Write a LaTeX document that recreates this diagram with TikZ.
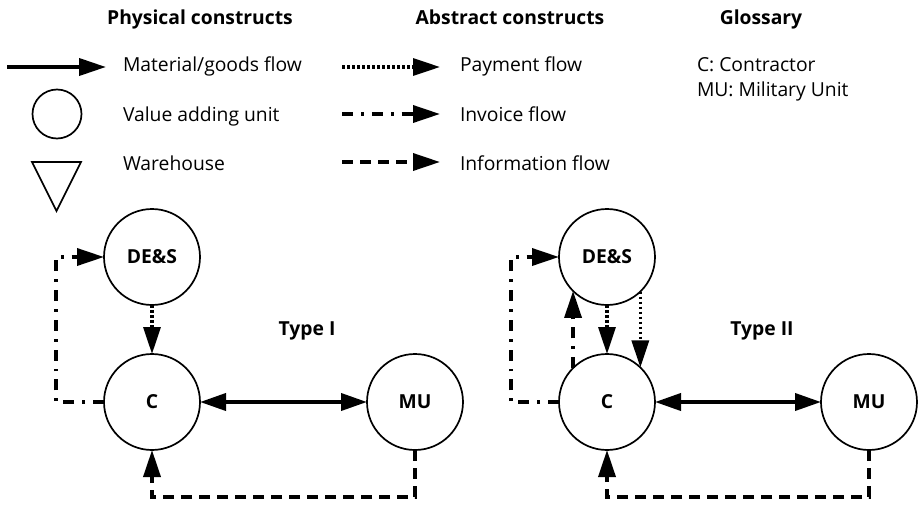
\documentclass[tikz,border=0pt]{standalone}
\usepackage{fontspec}
\setmainfont{Open Sans}
\usetikzlibrary{arrows.meta,calc}
\begin{document}
\begin{tikzpicture}[x=1pt,y=-1pt,
  every node/.style={font=\fontsize{19.3}{23}\selectfont, inner sep=0pt, outer sep=0pt},
  lbl/.style={anchor=base west},
  hdr/.style={anchor=base, font=\fontsize{19.3}{23}\selectfont\bfseries},
  unit/.style={circle, draw, line width=1.7pt, minimum size=96pt, font=\fontsize{19.3}{23}\selectfont\bfseries},
  headtip/.style={-{Triangle[length=27pt,width=17pt]}},
  bothtips/.style={{Triangle[length=26pt,width=17pt]}-{Triangle[length=26pt,width=17pt]}},
  material/.style={line width=3.8pt, headtip},
  goods/.style={line width=3.8pt, bothtips},
  payment/.style={line width=3.2pt, dash pattern=on 2.8pt off 2.2pt, headtip},
  invoice/.style={line width=3.5pt, dash pattern=on 11pt off 8pt on 2.8pt off 8pt, headtip},
  info/.style={line width=3.5pt, dash pattern=on 11pt off 7pt, headtip},
]
\useasboundingbox (0,0) rectangle (921,509);

% headers
\node[hdr] (hphys) at (200,24) {Physical constructs};
\node[hdr] (habs) at (510,24) {Abstract constructs};
\node[hdr] (hglo) at (761,24) {Glossary};

% legend: physical
\coordinate (m1) at (7,67); \coordinate (m2) at (106,67);
\draw[material] (m1) -- (m2);
\node[circle, draw, line width=1.7pt, minimum size=49pt] (vau) at (57,114) {};
\draw[line width=1.7pt, line join=miter] (32,162) -- (81,162) -- (56.5,211) -- cycle;
\node[lbl] (tmat) at (123,71) {Material/goods flow};
\node[lbl] (tvau) at (123,121) {Value adding unit};
\node[lbl] (twh) at (123,170) {Warehouse};

% legend: abstract
\coordinate (p1) at (342,67); \coordinate (p2) at (440,67);
\coordinate (i1) at (342,114); \coordinate (i2) at (440,114);
\coordinate (f1) at (342,162); \coordinate (f2) at (440,162);
\draw[payment] (p1) -- (p2);
\draw[invoice] (i1) -- (i2);
\draw[info] (f1) -- (f2);
\node[lbl] (tpay) at (460,71) {Payment flow};
\node[lbl] (tinv) at (460,121) {Invoice flow};
\node[lbl] (tinfo) at (460,170) {Information flow};

% glossary
\node[lbl] (gc) at (697,71) {C: Contractor};
\node[lbl] (gmu) at (697,96) {MU: Military Unit};

% Type I
\node[unit] (des1) at (152,257) {DE\&S};
\node[unit] (c1) at (152,402) {C};
\node[unit] (mu1) at (415,402) {MU};
\node[hdr] (t1) at (307,335) {Type I};
\draw[payment] (des1.south) -- (c1.north);
\draw[invoice] (c1.west) -- ++(-48,0) |- (des1.west);
\draw[goods] (c1.east) -- (mu1.west);
\draw[info] (mu1.south) -- ++(0,47) -| (c1.south);

% Type II
\node[unit] (des2) at (607,257) {DE\&S};
\node[unit] (c2) at (607,402) {C};
\node[unit] (mu2) at (869,402) {MU};
\node[hdr] (t2) at (762,335) {Type II};
\draw[payment] (des2.south) -- (c2.north);
\draw[payment] (des2.-46.6) -- (c2.46.6);
\draw[invoice] (c2.135) -- (des2.-135);
\draw[invoice] (c2.west) -- ++(-48,0) |- (des2.west);
\draw[goods] (c2.east) -- (mu2.west);
\draw[info] (mu2.south) -- ++(0,47) -| (c2.south);
\end{tikzpicture}
\end{document}
